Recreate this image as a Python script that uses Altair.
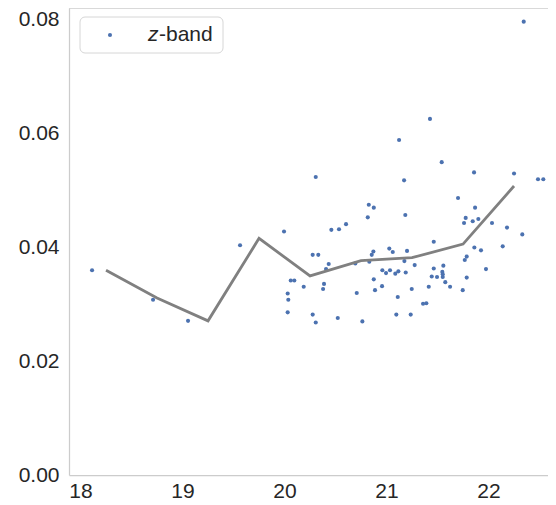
import altair as alt
import pandas as pd

# scatter: magnitude vs z-band value
mag = [18.113, 18.711, 19.054, 19.564, 21.123, 20.306, 21.172, 20.826, 20.875, 20.816,
       21.184, 19.995, 20.459, 20.534, 20.603, 20.276, 20.331, 20.433, 20.407, 20.871,
       20.855, 21.027, 21.061, 21.201, 21.175, 21.276, 20.694, 20.831, 20.959, 20.995,
       21.034, 21.086, 21.116, 21.188, 20.061, 20.096, 20.188, 20.387, 20.378, 20.875,
       20.956, 20.887, 21.247, 20.031, 20.037, 20.708, 21.110, 20.031, 20.276, 20.306,
       20.522, 20.763, 21.096, 21.237, 22.345, 21.426, 21.541, 21.858, 22.250, 22.485,
       22.537, 21.701, 21.868, 21.776, 21.760, 21.845, 21.900, 22.034, 22.181, 22.331,
       21.463, 22.139, 21.861, 21.926, 21.786, 21.767, 21.557, 21.463, 21.975, 21.547,
       21.551, 21.551, 21.443, 21.495, 21.576, 21.623, 21.786, 21.747, 21.414, 21.358,
       21.390]
zval = [0.0360, 0.0308, 0.0271, 0.0404, 0.0589, 0.0524, 0.0518, 0.0475, 0.0470, 0.0453,
        0.0457, 0.0428, 0.0431, 0.0432, 0.0441, 0.0387, 0.0387, 0.0371, 0.0362, 0.0393,
        0.0387, 0.0398, 0.0392, 0.0394, 0.0376, 0.0369, 0.0372, 0.0375, 0.0360, 0.0355,
        0.0360, 0.0354, 0.0358, 0.0356, 0.0342, 0.0342, 0.0331, 0.0336, 0.0327, 0.0344,
        0.0332, 0.0325, 0.0327, 0.0319, 0.0308, 0.0320, 0.0313, 0.0286, 0.0282, 0.0268,
        0.0276, 0.0270, 0.0282, 0.0282, 0.0797, 0.0626, 0.0550, 0.0532, 0.0530, 0.0520,
        0.0520, 0.0487, 0.0470, 0.0452, 0.0443, 0.0446, 0.0450, 0.0443, 0.0435, 0.0423,
        0.0410, 0.0402, 0.0400, 0.0395, 0.0384, 0.0378, 0.0368, 0.0363, 0.0362, 0.0357,
        0.0353, 0.0348, 0.0349, 0.0348, 0.0339, 0.0331, 0.0347, 0.0325, 0.0331, 0.0301,
        0.0302]

# binned median line
bin_mag = [18.25, 18.75, 19.25, 19.75, 20.25, 20.75, 21.25, 21.75, 22.25]
bin_med = [0.0360, 0.0311, 0.0271, 0.0416, 0.0350, 0.0377, 0.0382, 0.0406, 0.0508]

x_ticks = [18, 19, 20, 21, 22]
y_ticks = [0.00, 0.02, 0.04, 0.06, 0.08]
legend_italic = "z"
legend_rest = "-band"

W, H = 479, 467
XDOM = [17.887, 22.583]
YDOM = [0.0, 0.0821]
BLUE = "#4c72b0"
FONT = "Liberation Sans"

df_pts = pd.DataFrame({"mag": mag, "z": zval})
df_line = pd.DataFrame({"mag": bin_mag, "z": bin_med})
df_leg = pd.DataFrame({"a": [legend_italic], "b": [legend_rest]})


def xs():
    return alt.Scale(domain=XDOM, nice=False, zero=False)


def ys():
    return alt.Scale(domain=YDOM, nice=False, zero=False)


pts = alt.Chart(df_pts).mark_circle(size=17, color=BLUE, opacity=1).encode(
    x=alt.X("mag:Q", scale=xs(),
            axis=alt.Axis(values=x_ticks, format="d", title=None, labelPadding=5)),
    y=alt.Y("z:Q", scale=ys(),
            axis=alt.Axis(values=y_ticks, format=".2f", title=None, labelPadding=10)),
)

line = alt.Chart(df_line).mark_line(color="#808080", strokeWidth=2.8).encode(
    x=alt.X("mag:Q", scale=xs()),
    y=alt.Y("z:Q", scale=ys()),
)

top_spine = alt.Chart(df_leg).mark_rule(color="#cccccc", strokeWidth=1.25).encode(
    x=alt.value(0), x2=alt.value(W), y=alt.value(0)
)

box = alt.Chart(df_leg).mark_rect(
    fill="white", stroke="#d6d6d6", strokeWidth=1, cornerRadius=5
).encode(x=alt.value(11), x2=alt.value(154), y=alt.value(9), y2=alt.value(45))

dot = alt.Chart(df_leg).mark_circle(size=17, color=BLUE, opacity=1).encode(
    x=alt.value(41), y=alt.value(27)
)

t1 = alt.Chart(df_leg).mark_text(
    font=FONT, fontSize=21, fontStyle="italic", align="left", baseline="middle",
    color="#262626"
).encode(x=alt.value(79), y=alt.value(27), text="a:N")

t2 = alt.Chart(df_leg).mark_text(
    font=FONT, fontSize=21, align="left", baseline="middle", color="#262626"
).encode(x=alt.value(90), y=alt.value(27), text="b:N")

chart = alt.layer(pts, line, top_spine, box, dot, t1, t2).properties(
    width=W, height=H,
    autosize=alt.AutoSizeParams(type="none"),
    padding={"left": 61, "top": 0, "right": 0, "bottom": 30},
).configure_view(stroke=None).configure_axis(
    domainColor="#cccccc", domainWidth=1.25, ticks=False, grid=False,
    labelFont=FONT, labelFontSize=21, labelColor="#262626",
)

chart.save("out.html", embed_options={"renderer": "svg", "actions": False})
